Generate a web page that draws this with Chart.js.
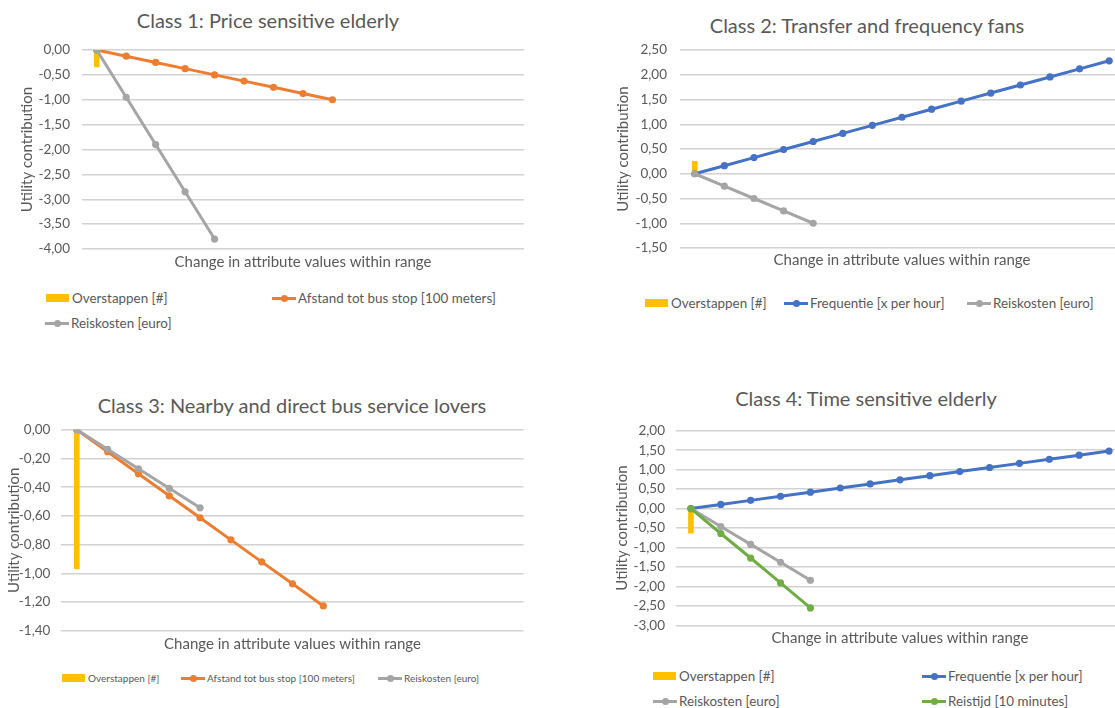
<!DOCTYPE html>
<html>
<head>
<meta charset="utf-8">
<script src="https://cdn.jsdelivr.net/npm/chart.js@4.4.1/dist/chart.umd.min.js"></script>
<style>
  html, body { margin: 0; padding: 0; background: #fff; }
  body { position: relative; width: 1115px; height: 708px; overflow: hidden;
         font-family: Lato, "Open Sans", sans-serif; color: #595959; }
  .box { position: absolute; }
  .title { position: absolute; width: 600px; text-align: center; font-size: 20px;
           line-height: 24px; white-space: nowrap; }
  .leg { position: absolute; display: flex; align-items: center; font-size: 13.4px;
         line-height: 16px; white-space: nowrap; }
  .leg.small { font-size: 10px; }
  .sym { position: relative; width: 24px; height: 10px; margin-right: 2px; flex: none; }
  .sym.bar::before { content: ""; position: absolute; left: 0; top: 1px; width: 23px; height: 8px;
                     background: #FFC000; }
  .sym.line::before { content: ""; position: absolute; left: 0; top: 3.5px; width: 24px; height: 3px;
                      background: var(--c); }
  .sym.line::after { content: ""; position: absolute; left: 8.5px; top: 1.5px; width: 7px; height: 7px;
                     border-radius: 50%; background: var(--c); }
</style>
</head>
<body>

<div class="title" style="left:-32px; top:8px;">Class 1: Price sensitive elderly</div>
<div class="title" style="left:567px; top:13px;">Class 2: Transfer and frequency fans</div>
<div class="title" style="left:-8px; top:393px;">Class 3: Nearby and direct bus service lovers</div>
<div class="title" style="left:566px; top:386px;">Class 4: Time sensitive elderly</div>

<div class="box" style="left:0; top:0; width:560px; height:285px;"><canvas id="c1"></canvas></div>
<div class="box" style="left:560px; top:0; width:580px; height:285px;"><canvas id="c2"></canvas></div>
<div class="box" style="left:0; top:380px; width:560px; height:285px;"><canvas id="c3"></canvas></div>
<div class="box" style="left:560px; top:380px; width:580px; height:285px;"><canvas id="c4"></canvas></div>

<!-- legends -->
<div class="leg" style="left:46px; top:290px;"><span class="sym bar"></span>Overstappen [#]</div>
<div class="leg" style="left:272px; top:290px;"><span class="sym line" style="--c:#ED7D31"></span>Afstand tot bus stop [100 meters]</div>
<div class="leg" style="left:45px; top:315px;"><span class="sym line" style="--c:#A5A5A5"></span>Reiskosten [euro]</div>

<div class="leg" style="left:645px; top:295px;"><span class="sym bar"></span>Overstappen [#]</div>
<div class="leg" style="left:784px; top:295px;"><span class="sym line" style="--c:#4472C4"></span>Frequentie [x per hour]</div>
<div class="leg" style="left:967px; top:295px;"><span class="sym line" style="--c:#A5A5A5"></span>Reiskosten [euro]</div>

<div class="leg small" style="left:62px; top:670px;"><span class="sym bar"></span>Overstappen [#]</div>
<div class="leg small" style="left:181px; top:670px;"><span class="sym line" style="--c:#ED7D31"></span>Afstand tot bus stop [100 meters]</div>
<div class="leg small" style="left:378px; top:670px;"><span class="sym line" style="--c:#A5A5A5"></span>Reiskosten [euro]</div>

<div class="leg" style="left:653px; top:668px;"><span class="sym bar"></span>Overstappen [#]</div>
<div class="leg" style="left:922px; top:668px;"><span class="sym line" style="--c:#4472C4"></span>Frequentie [x per hour]</div>
<div class="leg" style="left:653px; top:693px;"><span class="sym line" style="--c:#A5A5A5"></span>Reiskosten [euro]</div>
<div class="leg" style="left:922px; top:693px;"><span class="sym line" style="--c:#70AD47"></span>Reistijd [10 minutes]</div>

<script>
// Steps within each attribute's range (category axis, labels hidden)
const categories = ["1", "2", "3", "4", "5", "6", "7", "8", "9", "10", "11", "12", "13", "14", "15"];

// Class 1: Price sensitive elderly
const class1Overstappen = [-0.34];
const class1Afstand = [0, -0.125, -0.25, -0.375, -0.5, -0.625, -0.75, -0.875, -1.0];
const class1Reiskosten = [0, -0.95, -1.9, -2.85, -3.8];

// Class 2: Transfer and frequency fans
const class2Overstappen = [0.25];
const class2Frequentie = [0, 0.163, 0.326, 0.489, 0.652, 0.815, 0.978, 1.141, 1.304, 1.467, 1.63, 1.793, 1.956, 2.119, 2.282];
const class2Reiskosten = [0, -0.25, -0.5, -0.75, -1.0];

// Class 3: Nearby and direct bus service lovers
const class3Overstappen = [-0.97];
const class3Afstand = [0, -0.153, -0.307, -0.46, -0.613, -0.767, -0.92, -1.073, -1.227];
const class3Reiskosten = [0, -0.136, -0.272, -0.408, -0.544];

// Class 4: Time sensitive elderly
const class4Overstappen = [-0.63];
const class4Frequentie = [0, 0.106, 0.211, 0.317, 0.422, 0.528, 0.633, 0.739, 0.844, 0.95, 1.055, 1.161, 1.266, 1.372, 1.477];
const class4Reiskosten = [0, -0.46, -0.92, -1.38, -1.84];
const class4Reistijd = [0, -0.64, -1.27, -1.91, -2.55];

// Value axis ranges: [min, max, step]
const yRange1 = [-4, 0, 0.5];
const yRange2 = [-1.5, 2.5, 0.5];
const yRange3 = [-1.4, 0, 0.2];
const yRange4 = [-3, 2, 0.5];

const xTitle = "Change in attribute values within range";
const yTitle = "Utility contribution";

const FONT = "Lato, 'Open Sans', sans-serif";
const TEXT = "#595959";
const COLORS = { orange: "#ED7D31", grey: "#A5A5A5", blue: "#4472C4", green: "#70AD47", yellow: "#FFC000" };

function barSeries(label, data, order) {
  return { type: "bar", label, data, backgroundColor: COLORS.yellow, barThickness: 5, order };
}
function lineSeries(label, data, color, order) {
  return {
    type: "line", label, data, borderColor: color, backgroundColor: color,
    borderWidth: 3, tension: 0, pointRadius: 3.6, pointHoverRadius: 3.6,
    pointBorderWidth: 0, pointBackgroundColor: color, order
  };
}

function buildChart(id, datasets, range, frame) {
  new Chart(document.getElementById(id), {
    type: "line",
    data: { labels: categories, datasets },
    options: {
      responsive: true, maintainAspectRatio: false, animation: false, devicePixelRatio: 1,
      layout: { padding: frame.padding },
      plugins: { legend: { display: false }, title: { display: false }, tooltip: { enabled: false } },
      scales: {
        x: {
          type: "category", offset: true,
          grid: { display: false }, border: { display: false }, ticks: { display: false },
          title: { display: true, text: xTitle, color: TEXT, font: { family: FONT, size: 15 }, padding: 0 },
          afterFit(s) { s.height = frame.xH; }
        },
        y: {
          min: range[0], max: range[1],
          ticks: {
            stepSize: range[2], color: TEXT, padding: frame.tickPad,
            font: { family: FONT, size: 13.5 },
            callback: v => (Math.abs(v) < 1e-9 ? 0 : v).toFixed(2).replace(".", ",")
          },
          grid: { color: "#d2d2d2", lineWidth: 1.5, drawTicks: false },
          border: { display: false },
          title: { display: true, text: yTitle, color: TEXT, font: { family: FONT, size: 15 },
                   padding: { top: frame.yTitlePad, bottom: 0 } },
          afterFit(s) { s.width = frame.yW; }
        }
      }
    }
  });
}

buildChart("c1", [
  lineSeries("Reiskosten [euro]", class1Reiskosten, COLORS.grey, 1),
  lineSeries("Afstand tot bus stop [100 meters]", class1Afstand, COLORS.orange, 2),
  barSeries("Overstappen [#]", class1Overstappen, 3)
], yRange1, { padding: { left: 0, top: 50, right: 36, bottom: 14 }, xH: 22, yW: 82, yTitlePad: 18, tickPad: 12 });

buildChart("c2", [
  lineSeries("Reiskosten [euro]", class2Reiskosten, COLORS.grey, 1),
  lineSeries("Frequentie [x per hour]", class2Frequentie, COLORS.blue, 2),
  barSeries("Overstappen [#]", class2Overstappen, 3)
], yRange2, { padding: { left: 0, top: 50, right: 16, bottom: 15.5 }, xH: 21.5, yW: 120, yTitlePad: 54, tickPad: 13 });

buildChart("c3", [
  lineSeries("Reiskosten [euro]", class3Reiskosten, COLORS.grey, 1),
  lineSeries("Afstand tot bus stop [100 meters]", class3Afstand, COLORS.orange, 2),
  barSeries("Overstappen [#]", class3Overstappen, 3)
], yRange3, { padding: { left: 0, top: 49.7, right: 36.4, bottom: 11.7 }, xH: 22.5, yW: 61.4, yTitlePad: 5, tickPad: 11 });

buildChart("c4", [
  lineSeries("Reistijd [10 minutes]", class4Reistijd, COLORS.green, 1),
  lineSeries("Reiskosten [euro]", class4Reiskosten, COLORS.grey, 2),
  lineSeries("Frequentie [x per hour]", class4Frequentie, COLORS.blue, 3),
  barSeries("Overstappen [#]", class4Overstappen, 4)
], yRange4, { padding: { left: 0, top: 50.7, right: 16, bottom: 17.6 }, xH: 22, yW: 116, yTitlePad: 53.5, tickPad: 11 });
</script>
</body>
</html>
